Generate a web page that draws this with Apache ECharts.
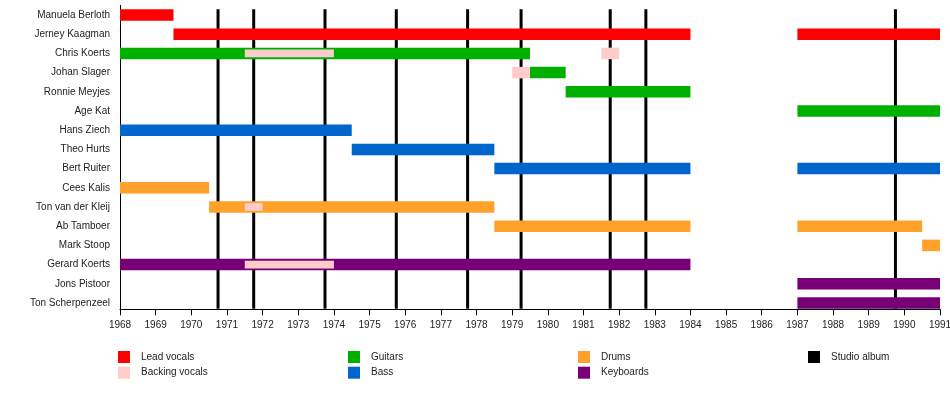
<!DOCTYPE html>
<html>
<head>
<meta charset="utf-8">
<script src="https://cdn.jsdelivr.net/npm/echarts@6/dist/echarts.min.js"></script>
<style>
html,body{margin:0;padding:0;background:#fff;}
#chart{width:950px;height:408px;}
</style>
</head>
<body>
<div id="chart"></div>
<script>
const members = ['Manuela Berloth','Jerney Kaagman','Chris Koerts','Johan Slager','Ronnie Meyjes','Age Kat','Hans Ziech','Theo Hurts','Bert Ruiter','Cees Kalis','Ton van der Kleij','Ab Tamboer','Mark Stoop','Gerard Koerts','Jons Pistoor','Ton Scherpenzeel'];
const leadVocals = [['Manuela Berloth',1968,1969.5],['Jerney Kaagman',1969.5,1984],['Jerney Kaagman',1987,1991]];
const backingVocals = [['Chris Koerts',1971.5,1974],['Chris Koerts',1981.5,1982],['Johan Slager',1979,1979.5],['Ton van der Kleij',1971.5,1972],['Gerard Koerts',1971.5,1974]];
const guitars = [['Chris Koerts',1968,1979.5],['Johan Slager',1979.5,1980.5],['Ronnie Meyjes',1980.5,1984],['Age Kat',1987,1991]];
const bass = [['Hans Ziech',1968,1974.5],['Theo Hurts',1974.5,1978.5],['Bert Ruiter',1978.5,1984],['Bert Ruiter',1987,1991]];
const drums = [['Cees Kalis',1968,1970.5],['Ton van der Kleij',1970.5,1978.5],['Ab Tamboer',1978.5,1984],['Ab Tamboer',1987,1990.5],['Mark Stoop',1990.5,1991]];
const keyboards = [['Gerard Koerts',1968,1984],['Jons Pistoor',1987,1991],['Ton Scherpenzeel',1987,1991]];
const studioAlbums = [1970.75,1971.75,1973.75,1975.75,1977.75,1979.25,1981.75,1982.75,1989.75];
const yearMin = 1968, yearMax = 1991;

const roles = [
  {name:'Lead vocals', data:leadVocals, color:'#ff0000'},
  {name:'Guitars', data:guitars, color:'#00b000'},
  {name:'Bass', data:bass, color:'#0066cc'},
  {name:'Drums', data:drums, color:'#ffa12b'},
  {name:'Keyboards', data:keyboards, color:'#770077'}
];
const mainBars = roles.flatMap(r => r.data);
function covered(b){
  return mainBars.some(m => m[0]===b[0] && m[1]<=b[1] && m[2]>=b[2]);
}
const FONT = 'Liberation Sans, Arial, sans-serif';

function renderBar(params, api){
  const row = api.value(2);
  const p1 = api.coord([api.value(0), row]);
  const p2 = api.coord([api.value(1), row]);
  const band = api.size([0,1])[1];
  const h = band * (api.value(3) ? 0.4 : 0.6);
  return {type:'rect', shape:{x:p1[0], y:p1[1]-h/2, width:p2[0]-p1[0], height:h}, style:{fill:api.visual('color')}};
}
function renderLine(params, api){
  const yr = api.value(0);
  const band = api.size([0,1])[1];
  const top = api.coord([yr, 0]);
  const bot = api.coord([yr, members.length-1]);
  return {type:'line', shape:{x1:top[0], y1:top[1]-0.3*band, x2:bot[0], y2:bot[1]+0.3*band}, style:{stroke:'#000', lineWidth:3}};
}

const series = [];
series.push({name:'Studio album', type:'custom', z:1, itemStyle:{color:'#000'}, renderItem:renderLine,
  encode:{x:0,y:1}, data:studioAlbums.map(y=>[y,0])});
roles.forEach(r => series.push({name:r.name, type:'custom', z:2, itemStyle:{color:r.color}, renderItem:renderBar,
  encode:{x:[0,1], y:2}, data:r.data.map(b=>[b[1],b[2],members.indexOf(b[0]),0])}));
series.push({name:'Backing vocals', type:'custom', z:3, itemStyle:{color:'#ffcccc'}, renderItem:renderBar,
  encode:{x:[0,1], y:2}, data:backingVocals.map(b=>[b[1],b[2],members.indexOf(b[0]),covered(b)?1:0])});

function legendCol(left, names){
  return {left:left, top:351, orient:'vertical', padding:0, itemWidth:12, itemHeight:12, itemGap:3.7,
    icon:'rect', selectedMode:false, data:names,
    textStyle:{fontFamily:FONT, fontSize:10, color:'#222', padding:[0,0,0,6]}};
}

const chart = echarts.init(document.getElementById('chart'), null, {renderer:'canvas'});
chart.setOption({
  animation:false,
  backgroundColor:'#fff',
  grid:{left:120, right:10, top:5.4, bottom:95.4, containLabel:false, outerBoundsMode:'none'},
  xAxis:{type:'value', min:yearMin, max:yearMax, interval:1, offset:-3.3,
    axisLine:{show:true, lineStyle:{color:'#000', width:1}},
    axisTick:{show:true, length:6, lineStyle:{color:'#000'}},
    axisLabel:{fontFamily:FONT, fontSize:10, color:'#222', margin:11, formatter:v=>String(v)},
    splitLine:{show:false}},
  yAxis:{type:'category', inverse:true, data:members,
    axisLine:{show:true, lineStyle:{color:'#000', width:1}},
    axisTick:{show:false},
    axisLabel:{fontFamily:FONT, fontSize:10, color:'#222', margin:10},
    splitLine:{show:false}},
  legend:[
    legendCol(118, ['Lead vocals','Backing vocals']),
    legendCol(348, ['Guitars','Bass']),
    legendCol(578, ['Drums','Keyboards']),
    legendCol(808, ['Studio album'])
  ],
  series:series
});
</script>
</body>
</html>
